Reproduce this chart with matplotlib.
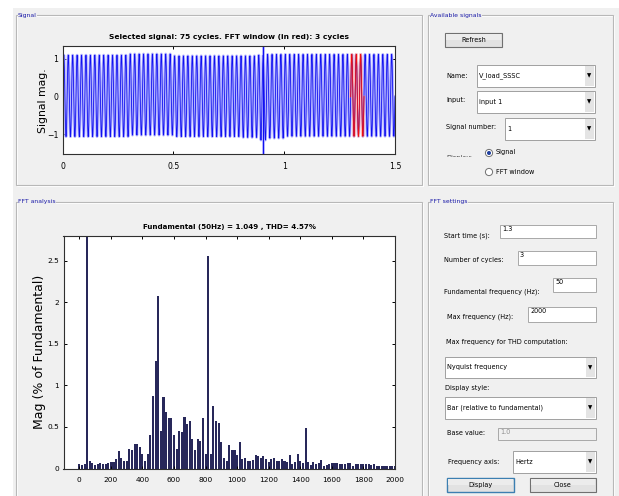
import numpy as np
import matplotlib
matplotlib.use('Agg')
import matplotlib.pyplot as plt
from matplotlib import font_manager
from matplotlib.patches import Rectangle, Circle

# ---- data ----
fund_freq = 50            # Hz
t_end = 1.5               # s, 75 cycles
fft_start = 1.3           # s
fft_cycles = 3
# peak values of the waveform per stretch of time (top plot)
seg_t = [0.0, 0.3, 0.5, 0.8, 0.88, 0.92, 1.0]
seg_pos = [1.10, 1.13, 1.08, 1.08, 1.10, 1.12, 1.12]
seg_neg = [-1.06, -1.02, -1.06, -1.08, -1.15, -1.10, -1.05]
spike_t = 0.906
spike_vals = [1.35, -1.52]

# FFT bars, % of fundamental, one bin every 50/3 Hz (0 .. 2000 Hz)
mags = [0.06, 0.04, 0.05, 100.0, 0.09, 0.065, 0.04, 0.06, 0.065, 0.05,
        0.05, 0.065, 0.075, 0.075, 0.11, 0.21, 0.13, 0.09, 0.09, 0.24,
        0.22, 0.29, 0.29, 0.26, 0.17, 0.09, 0.18, 0.40, 0.87, 1.29,
        2.07, 0.45, 0.86, 0.68, 0.61, 0.61, 0.40, 0.24, 0.45, 0.44,
        0.62, 0.53, 0.57, 0.36, 0.22, 0.35, 0.33, 0.61, 0.17, 2.55,
        0.18, 0.75, 0.57, 0.55, 0.32, 0.13, 0.09, 0.28, 0.22, 0.22,
        0.16, 0.32, 0.12, 0.13, 0.09, 0.09, 0.10, 0.16, 0.15, 0.13,
        0.15, 0.11, 0.08, 0.12, 0.13, 0.09, 0.09, 0.12, 0.09, 0.08,
        0.16, 0.06, 0.08, 0.17, 0.09, 0.07, 0.49, 0.08, 0.04, 0.075,
        0.055, 0.065, 0.10, 0.025, 0.04, 0.055, 0.065, 0.065, 0.07, 0.055,
        0.055, 0.055, 0.065, 0.07, 0.03, 0.05, 0.055, 0.055, 0.05, 0.05,
        0.055, 0.04, 0.05, 0.03, 0.025, 0.025, 0.03, 0.03, 0.03, 0.03,
        0.03]
freq_step = fund_freq / fft_cycles
freqs = [k * freq_step for k in range(len(mags))]

sig_title = 'Selected signal: 75 cycles. FFT window (in red): 3 cycles'
fft_title = 'Fundamental (50Hz) = 1.049 , THD= 4.57%'


def pick_font(names):
    for n in names:
        try:
            font_manager.findfont(font_manager.FontProperties(family=n),
                                  fallback_to_default=False)
            return n, True
        except ValueError:
            pass
    return 'DejaVu Sans', False


narrow, found = pick_font(['Liberation Sans Narrow', 'Arial Narrow',
                           'DejaVu Sans Condensed'])
k = 1.0 if found else 0.8
GUI_FS = 5.9 * k
BG = '#f0f0f0'

W, H = 619, 496
fig = plt.figure(figsize=(W / 100, H / 100), dpi=100)
fig.patch.set_facecolor('white')

# gui layer in pixel coordinates
g = fig.add_axes([0, 0, 1, 1])
g.set_xlim(0, W)
g.set_ylim(H, 0)
g.axis('off')
g.add_patch(Rectangle((13, 8), W - 13, H - 8, facecolor=BG, edgecolor='none'))


def panel(x0, y0, x1, y1, title):
    g.add_patch(Rectangle((x0 + 1, y0 + 1), x1 - x0, y1 - y0, fill=False,
                          edgecolor='white', lw=0.8))
    g.add_patch(Rectangle((x0, y0), x1 - x0, y1 - y0, fill=False,
                          edgecolor='#b8b8b8', lw=0.8))
    g.text(x0 + 2, y0, title, fontsize=GUI_FS - 0.3, family=narrow,
           color='#1a1aa8', va='center', ha='left',
           bbox=dict(facecolor=BG, edgecolor='none', pad=0.3))


def label(x, y, s, **kw):
    g.text(x, y, s, fontsize=GUI_FS, family=narrow, va='center', ha='left',
           color=kw.pop('color', 'black'), **kw)


def edit(x0, y0, x1, y1, s, disabled=False):
    g.add_patch(Rectangle((x0, y0), x1 - x0, y1 - y0,
                          facecolor=BG if disabled else 'white',
                          edgecolor='#a8a8a8', lw=0.7))
    g.text(x0 + 2, y0 + 4, s, fontsize=GUI_FS, family=narrow, va='center',
           ha='left', color='#909090' if disabled else 'black')


def popup(x0, y0, x1, y1, s):
    g.add_patch(Rectangle((x0, y0), x1 - x0, y1 - y0, facecolor='white',
                          edgecolor='#a0a0a0', lw=0.7))
    g.add_patch(Rectangle((x1 - 10, y0 + 1), 9, y1 - y0 - 2,
                          facecolor='#e4e4e4', edgecolor='none'))
    g.text(x0 + 2, (y0 + y1) / 2, s, fontsize=GUI_FS, family=narrow,
           va='center', ha='left')
    g.text(x1 - 5.5, (y0 + y1) / 2, '\u25bc', fontsize=4, va='center',
           ha='center', family='DejaVu Sans')


def button(x0, y0, x1, y1, s, focus=False):
    g.add_patch(Rectangle((x0, y0), x1 - x0, y1 - y0, facecolor='#e2e2e2',
                          edgecolor='#3c7fb1' if focus else '#707070',
                          lw=1.0 if focus else 0.8))
    g.add_patch(Rectangle((x0 + 1, y0 + 1), x1 - x0 - 2, (y1 - y0) / 2 - 1,
                          facecolor='#ececec', edgecolor='none'))
    g.text((x0 + x1) / 2, (y0 + y1) / 2, s, fontsize=GUI_FS, family=narrow,
           va='center', ha='center')


# panels
panel(16, 15, 422, 185, 'Signal')
panel(428, 15, 613, 185, 'Available signals')
panel(16, 202, 422, 520, 'FFT analysis')
panel(428, 202, 613, 520, 'FFT settings')

# available signals
button(445, 33, 502, 47, 'Refresh')
label(446, 76, 'Name:')
popup(477, 65, 595, 87, 'V_load_SSSC')
label(446, 100, 'Input:')
popup(477, 91, 595, 113, 'input 1')
label(446, 127, 'Signal number:')
popup(505, 118, 595, 140, '1')
label(446, 158, 'Display:', color='#404040')
g.add_patch(Rectangle((440, 157), 40, 8, facecolor=BG, edgecolor='none',
                      zorder=3))
g.add_patch(Circle((489, 153), 3.6, facecolor='white', edgecolor='#707070',
                   lw=0.7, zorder=4))
g.add_patch(Circle((489, 153), 2.0, facecolor='#1f3f9f', edgecolor='none',
                   zorder=5))
g.add_patch(Circle((489, 172), 3.6, facecolor='white', edgecolor='#707070',
                   lw=0.7, zorder=4))
label(496, 152, 'Signal')
label(496, 172, 'FFT window')

# fft settings
label(444, 236, 'Start time (s):')
edit(500, 225, 596, 238, '1.3')
label(444, 260, 'Number of cycles:')
edit(518, 251, 596, 265, '3')
label(444, 292, 'Fundamental frequency (Hz):')
edit(553, 278, 596, 292, '50')
label(447, 317, 'Max frequency (Hz):')
edit(528, 307, 596, 322, '2000')
label(446, 342, 'Max frequency for THD computation:')
popup(445, 357, 596, 378, 'Nyquist frequency')
label(445, 388, 'Display style:')
popup(445, 397, 596, 419, 'Bar (relative to fundamental)')
label(447, 433, 'Base value:')
edit(498, 428, 596, 440, '1.0', disabled=True)
label(448, 462, 'Frequency axis:')
popup(513, 451, 596, 473, 'Hertz')
button(447, 478, 514, 492, 'Display', focus=True)
button(530, 478, 596, 492, 'Close')

# y labels (drawn on the gui layer)
g.text(43, 101, 'Signal mag.', rotation=90, fontsize=7.8, va='center',
       ha='center', family='DejaVu Sans')
g.text(40, 352, 'Mag (% of Fundamental)', rotation=90, fontsize=9,
       va='center', ha='center', family='DejaVu Sans')


def style(ax, fs):
    for sp in ax.spines.values():
        sp.set_color('#303030')
        sp.set_linewidth(0.8)
    ax.tick_params(direction='in', length=2.5, width=0.7, top=True,
                   right=True, labelsize=fs * k, pad=3)
    for lb in ax.get_xticklabels() + ax.get_yticklabels():
        lb.set_family(narrow)


# ---- signal axes ----
ax1 = fig.add_axes([62.7 / W, 1 - 154 / H, (395 - 62.7) / W, (154 - 45.7) / H])
t = np.linspace(0, t_end, 75 * 48 + 1)
s = np.sin(2 * np.pi * fund_freq * t)
idx = np.searchsorted(seg_t, t, side='right') - 1
pos = np.array(seg_pos)[idx]
neg = np.array(seg_neg)[idx]
y = np.where(s >= 0, s * pos, -s * neg)
i_sp = np.searchsorted(t, spike_t)
t = np.insert(t, i_sp, [spike_t, spike_t, spike_t])
y = np.insert(y, i_sp, [spike_vals[0], spike_vals[1], y[i_sp]])
win = (t >= fft_start) & (t <= fft_start + fft_cycles / fund_freq)
# wide pale stroke under a thin dark one, like the screenshot's dense trace
ax1.plot(t, y, color='#b4b4ff', lw=2.0)
ax1.plot(t[win], y[win], color='#ffb4b4', lw=2.0)
ax1.plot(t, y, color='#1010f0', lw=0.6)
ax1.plot(t[win], y[win], color='#f01010', lw=0.6)
ax1.set_xlim(0, t_end)
ax1.set_ylim(min(spike_vals), max(spike_vals))
ax1.set_xticks([0, 0.5, 1, 1.5])
ax1.set_xticklabels(['0', '0.5', '1', '1.5'])
ax1.set_yticks([-1, 0, 1])
style(ax1, 7)
ax1.tick_params(axis='x', pad=6)
ax1.set_title(sig_title, fontsize=6.7 * k, fontweight='bold', family=narrow,
              pad=5)

# ---- fft axes ----
ax2 = fig.add_axes([63.5 / W, 1 - 468.5 / H, (395 - 63.5) / W,
                    (468.5 - 235.7) / H])
ax2.bar(freqs, mags, width=13, color='#28285a', linewidth=0)
ax2.set_xlim(-100, 2000)
ax2.set_ylim(0, 2.8)
ax2.set_xticks(range(0, 2001, 200))
ax2.set_yticks([0, 0.5, 1, 1.5, 2, 2.5])
ax2.set_yticklabels(['0', '0.5', '1', '1.5', '2', '2.5'])
style(ax2, 6.6)
ax2.tick_params(axis='x', pad=6)
ax2.set_title(fft_title, fontsize=6.4 * k, fontweight='bold', family=narrow,
              pad=5)

fig.savefig('out.png', dpi=100, facecolor=fig.get_facecolor())
